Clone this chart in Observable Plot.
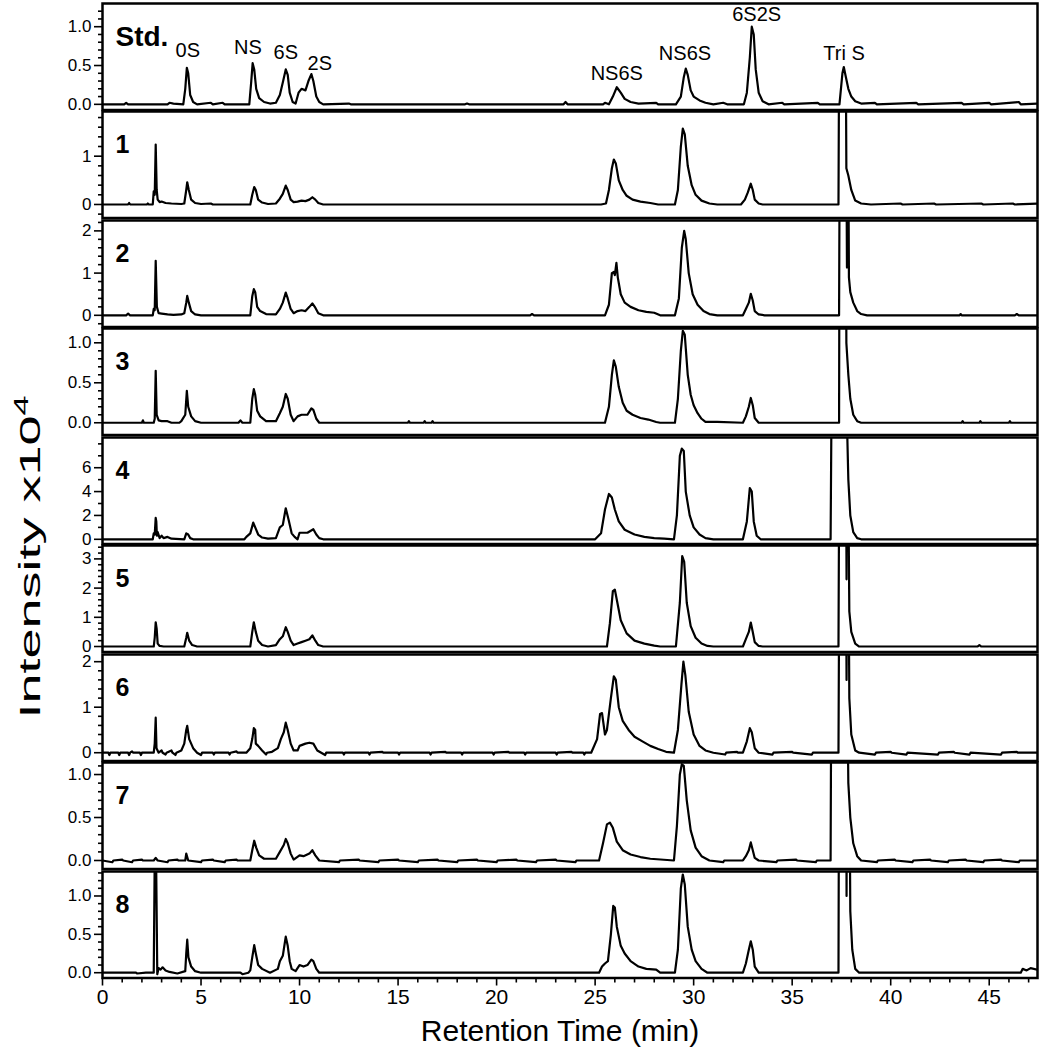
<!DOCTYPE html>
<html><head><meta charset="utf-8">
<script src="https://cdn.jsdelivr.net/npm/d3@7"></script>
<script src="https://cdn.jsdelivr.net/npm/@observablehq/plot@0.6"></script>
<style>
body{margin:0;background:#fff}
#chart{position:relative;width:1039px;height:1050px;font-family:"Liberation Sans",Arial,sans-serif;color:#000}
#chart svg{position:absolute;left:0;display:block}
.ttl{position:absolute;white-space:nowrap}
</style>
</head><body><div id="chart"></div>
<script>
// ---- data ----
const panelNames = ["Std.", "1", "2", "3", "4", "5", "6", "7", "8"];
const xMajorTicks = [0, 5, 10, 15, 20, 25, 30, 35, 40, 45];
const xMinorTicks = [1,2,3,4,6,7,8,9,11,12,13,14,16,17,18,19,21,22,23,24,26,27,28,29,31,32,33,34,36,37,38,39,41,42,43,44,46,47];

const stdPeakLabels = ["0S", "NS", "6S", "2S", "NS6S", "NS6S", "6S2S", "Tri S"];
const stdLabelTime  = [4.33, 7.38, 9.3, 11.03, 26.1, 29.56, 33.2, 37.63];
const stdLabelLevel = [0.69, 0.73, 0.67, 0.53, 0.39, 0.66, 1.16, 0.66];

const traceStd = [[0,0],[1.1,0],[1.2,0.02],[1.3,0],[3.3,0],[3.4,0.02],[3.6,0.01],[4.1,0],[4.2,0.2],[4.28,0.47],[4.35,0.4],[4.45,0.12],[4.6,0.03],[4.8,0],[5.5,0.02],[5.6,0],[6.1,0.02],[6.2,0],[7.45,0],[7.55,0.3],[7.62,0.53],[7.7,0.45],[7.8,0.2],[7.95,0.08],[8.2,0.03],[8.5,0.01],[8.8,0.02],[9.0,0.12],[9.15,0.28],[9.3,0.45],[9.4,0.38],[9.5,0.15],[9.65,0.03],[9.8,0.01],[9.95,0.15],[10.1,0.2],[10.3,0.18],[10.45,0.3],[10.6,0.39],[10.7,0.3],[10.85,0.1],[11.0,0.03],[11.2,0],[12.5,0.01],[12.6,0],[18.4,0],[18.5,0.01],[18.6,0],[23.4,0],[23.5,0.03],[23.6,0],[25.4,0],[25.5,0.02],[25.7,0],[25.9,0.1],[26.1,0.22],[26.3,0.15],[26.5,0.07],[26.8,0.03],[27.2,0.01],[28.1,0.02],[28.2,0],[29.1,0],[29.35,0.1],[29.5,0.35],[29.6,0.46],[29.7,0.38],[29.85,0.18],[30.0,0.1],[30.3,0.05],[30.6,0.02],[31,0],[31.5,0.02],[31.7,0],[32.55,0],[32.7,0.15],[32.85,0.6],[32.95,1.0],[33.05,0.9],[33.15,0.45],[33.3,0.15],[33.5,0.04],[33.8,0],[34.5,0.02],[34.6,0],[36.3,0.02],[36.4,0],[37.4,0],[37.55,0.4],[37.62,0.48],[37.7,0.38],[37.85,0.2],[38.0,0.1],[38.2,0.04],[38.5,0.01],[39.2,0.02],[39.3,0],[41.3,0.02],[41.4,0],[43.6,0.02],[43.7,0],[45.0,0.02],[45.1,0],[46.5,0.03],[46.6,0],[47.45,0.01]];

const trace1 = [[0,0],[1.3,0],[1.35,0.03],[1.4,0],[2.25,0],[2.3,0.02],[2.35,0],[2.55,0],[2.6,0.27],[2.65,0.2],[2.7,1.24],[2.75,0.3],[2.8,0.1],[2.9,0.05],[3.0,0.06],[3.2,0.03],[3.5,0.02],[4.0,0.01],[4.15,0.02],[4.25,0.3],[4.3,0.46],[4.38,0.3],[4.5,0.1],[4.7,0.03],[5.0,0.01],[5.5,0.02],[5.6,0],[7.5,0],[7.6,0.2],[7.7,0.36],[7.78,0.3],[7.9,0.1],[8.1,0.04],[8.4,0.01],[8.8,0.02],[9.0,0.12],[9.15,0.22],[9.3,0.39],[9.4,0.3],[9.55,0.1],[9.7,0.05],[9.9,0.06],[10.1,0.08],[10.3,0.07],[10.5,0.1],[10.65,0.15],[10.8,0.1],[10.95,0.03],[11.2,0],[25.3,0],[25.55,0.02],[25.7,0.3],[25.85,0.75],[25.95,0.93],[26.05,0.85],[26.2,0.5],[26.4,0.3],[26.6,0.18],[26.9,0.1],[27.3,0.06],[27.8,0.03],[28.2,0],[29.05,0],[29.2,0.3],[29.35,1.2],[29.45,1.57],[29.55,1.45],[29.7,0.8],[29.9,0.4],[30.1,0.2],[30.4,0.08],[30.8,0.02],[31.2,0],[32.4,0],[32.6,0.1],[32.75,0.25],[32.9,0.43],[33.0,0.3],[33.1,0.1],[33.3,0.02],[33.5,0],[37.35,0],[37.4,5],[37.7,5],[37.75,0.75],[37.85,0.6],[38.0,0.3],[38.2,0.08],[38.5,0.02],[39,0],[40.5,0.02],[40.6,0],[42.2,0.02],[42.3,0],[44.6,0.02],[44.7,0],[46.2,0.02],[46.3,0],[47.45,0.02]];

const trace2 = [[0,0],[1.2,0],[1.3,0.04],[1.4,0],[2.55,0],[2.6,0.15],[2.65,0.12],[2.7,1.29],[2.76,0.2],[2.85,0.05],[3.0,0.04],[3.3,0.02],[3.6,0.01],[4.0,0.02],[4.15,0.05],[4.25,0.3],[4.3,0.46],[4.38,0.3],[4.5,0.1],[4.7,0.02],[5.0,0],[7.5,0],[7.6,0.45],[7.68,0.62],[7.75,0.55],[7.85,0.2],[8.0,0.1],[8.3,0.03],[8.8,0.02],[9.0,0.15],[9.15,0.3],[9.3,0.54],[9.4,0.4],[9.55,0.15],[9.7,0.05],[9.9,0.1],[10.1,0.12],[10.3,0.1],[10.5,0.2],[10.65,0.28],[10.8,0.18],[10.95,0.05],[11.2,0],[21.7,0],[21.8,0.03],[21.9,0],[25.5,0],[25.7,0.25],[25.85,1.0],[25.95,1.03],[26.0,0.95],[26.08,1.24],[26.15,0.9],[26.3,0.5],[26.5,0.3],[26.8,0.2],[27.2,0.12],[27.6,0.08],[28.0,0.06],[28.3,0],[29.05,0],[29.25,0.4],[29.4,1.6],[29.52,2.0],[29.6,1.8],[29.75,1.0],[29.95,0.5],[30.2,0.25],[30.5,0.1],[30.8,0.03],[31.2,0],[32.5,0],[32.65,0.15],[32.8,0.3],[32.9,0.51],[33.0,0.35],[33.1,0.1],[33.3,0.02],[33.6,0],[37.38,0],[37.42,5],[37.74,5],[37.78,1.13],[37.8,5],[37.84,5],[37.88,0.9],[37.95,0.55],[38.1,0.3],[38.3,0.1],[38.5,0.03],[38.8,0],[43.5,0],[43.55,0.03],[43.6,0],[46.3,0],[46.4,0.03],[46.5,0],[47.45,0]];

const trace3 = [[0,0],[2.0,0],[2.05,0.03],[2.1,0],[2.6,0],[2.65,0.05],[2.7,0.65],[2.75,0.1],[2.85,0.03],[3.0,0.02],[3.3,0.02],[3.5,0],[3.9,0],[4.0,0.02],[4.2,0.1],[4.28,0.4],[4.35,0.2],[4.5,0.08],[4.7,0.02],[5.0,0],[6.9,0],[7.0,0.03],[7.1,0],[7.5,0],[7.6,0.3],[7.68,0.42],[7.75,0.35],[7.85,0.15],[8.0,0.08],[8.3,0.02],[8.8,0.02],[9.0,0.12],[9.15,0.2],[9.3,0.36],[9.4,0.3],[9.55,0.1],[9.7,0.02],[9.9,0.08],[10.1,0.1],[10.4,0.1],[10.6,0.18],[10.7,0.16],[10.85,0.05],[11.0,0],[15.5,0],[15.55,0.02],[15.6,0],[16.3,0],[16.35,0.02],[16.4,0],[16.7,0],[16.75,0.02],[16.8,0],[25.5,0],[25.7,0.2],[25.85,0.6],[25.95,0.78],[26.05,0.7],[26.2,0.45],[26.4,0.25],[26.6,0.15],[26.9,0.1],[27.3,0.06],[27.7,0.04],[28.1,0.01],[28.3,0],[29.05,0],[29.2,0.3],[29.35,0.9],[29.45,1.15],[29.55,1.1],[29.7,0.6],[29.85,0.35],[30.0,0.22],[30.2,0.12],[30.4,0.05],[30.6,0.01],[31.2,0.01],[32.5,0],[32.65,0.08],[32.8,0.2],[32.9,0.31],[33.0,0.22],[33.1,0.06],[33.3,0],[37.38,0],[37.42,5],[37.7,5],[37.75,1.0],[37.85,0.6],[37.95,0.3],[38.1,0.1],[38.3,0.02],[38.5,0],[43.6,0],[43.65,0.02],[43.7,0],[44.5,0],[44.55,0.02],[44.6,0],[46.0,0],[46.05,0.02],[46.1,0],[47.45,0]];

const trace4 = [[0,0],[2.55,0],[2.6,0.5],[2.65,0.4],[2.7,1.8],[2.73,1.5],[2.76,0.3],[2.8,0.6],[2.9,0.1],[3.0,0.3],[3.1,0.1],[3.3,0.2],[3.5,0.05],[4.15,0],[4.25,0.5],[4.35,0.4],[4.45,0.1],[4.6,0],[7.2,0],[7.3,0.2],[7.5,0.5],[7.65,1.4],[7.75,1.0],[7.9,0.4],[8.1,0.15],[8.4,0.05],[8.8,0.1],[9.0,1.0],[9.15,1.2],[9.3,2.6],[9.45,1.6],[9.6,0.5],[9.75,0.2],[9.9,0],[10.0,0.55],[10.4,0.55],[10.55,0.7],[10.7,0.84],[10.85,0.4],[11.0,0.1],[11.2,0],[25.0,0],[25.3,0.5],[25.5,2.5],[25.7,3.8],[25.85,3.5],[26.0,2.5],[26.2,1.5],[26.5,0.8],[27.0,0.4],[27.5,0.2],[28.0,0.1],[28.5,0.05],[29.0,0],[29.15,2.0],[29.3,7.0],[29.4,7.6],[29.5,7.4],[29.6,4.0],[29.8,2.0],[30.0,1.0],[30.3,0.4],[30.6,0.1],[31.0,0],[32.5,0],[32.7,1.5],[32.85,4.3],[32.95,4.0],[33.05,1.5],[33.2,0.3],[33.4,0],[36.95,0],[37.0,12],[37.75,12],[37.85,5],[37.95,2],[38.1,0.6],[38.3,0.1],[38.5,0],[47.45,0]];

const trace5 = [[0,0],[2.6,0],[2.65,0.3],[2.7,0.83],[2.75,0.6],[2.8,0.1],[2.9,0.02],[3.1,0],[4.15,0],[4.25,0.3],[4.3,0.47],[4.4,0.2],[4.55,0.05],[4.8,0],[7.5,0],[7.6,0.5],[7.68,0.83],[7.78,0.5],[7.9,0.2],[8.1,0.05],[8.4,0],[8.8,0.05],[9.0,0.25],[9.15,0.35],[9.3,0.66],[9.4,0.5],[9.55,0.2],[9.7,0.05],[9.9,0.1],[10.1,0.15],[10.3,0.2],[10.5,0.25],[10.65,0.38],[10.8,0.2],[10.95,0.05],[11.2,0],[25.6,0],[25.75,0.8],[25.9,1.9],[26.0,1.95],[26.1,1.6],[26.3,0.9],[26.6,0.45],[27.0,0.2],[27.5,0.1],[28.0,0.03],[28.3,0],[29.1,0],[29.3,1.5],[29.42,3.1],[29.52,2.9],[29.65,1.5],[29.85,0.7],[30.1,0.3],[30.4,0.1],[30.7,0.02],[31,0],[32.5,0],[32.65,0.25],[32.8,0.5],[32.9,0.82],[33.0,0.5],[33.1,0.15],[33.3,0.02],[33.5,0],[37.35,0],[37.4,8],[37.72,8],[37.76,2.3],[37.78,8],[37.82,8],[37.9,1.2],[38.0,0.5],[38.2,0.1],[38.4,0],[44.4,0],[44.5,0.05],[44.6,0],[47.45,0]];

const trace6 = [[0,0],[0.3,0],[0.35,-0.05],[0.4,0],[0.8,0],[0.85,-0.05],[0.9,0],[1.3,0],[1.35,-0.05],[1.4,0],[1.5,0.03],[1.55,0],[1.9,0],[1.95,-0.05],[2.0,0],[2.6,0],[2.65,0.2],[2.7,0.77],[2.74,0.1],[2.85,0],[3.0,0.05],[3.05,0],[3.2,-0.04],[3.25,0],[3.5,0.05],[3.55,0],[3.7,-0.05],[3.75,0],[4.0,0.05],[4.15,0.2],[4.25,0.5],[4.3,0.59],[4.4,0.3],[4.6,0.1],[4.8,0],[5.0,-0.05],[5.05,0],[5.6,0],[5.65,-0.04],[5.7,0],[6.4,0],[6.45,-0.04],[6.5,0],[6.8,0.03],[6.85,0],[7.3,0],[7.5,0.1],[7.6,0.3],[7.68,0.54],[7.75,0.5],[7.78,0.2],[7.9,0.15],[8.1,0.05],[8.3,-0.04],[8.35,0],[8.6,0.02],[8.9,0.1],[9.05,0.3],[9.2,0.45],[9.3,0.66],[9.4,0.5],[9.55,0.2],[9.7,0.05],[9.9,0.05],[10.0,0.15],[10.3,0.2],[10.5,0.22],[10.7,0.2],[10.9,0.05],[11.1,0],[11.3,-0.05],[11.35,0],[12.2,0],[12.25,-0.04],[12.3,0],[13.5,0],[13.55,-0.04],[13.6,0],[14.2,0.02],[14.25,0],[15.0,0],[15.05,-0.04],[15.1,0],[16.6,0],[16.65,-0.04],[16.7,0],[17.4,0.02],[17.45,0],[18.2,0],[18.25,-0.04],[18.3,0],[19.8,0],[19.85,-0.04],[19.9,0],[20.6,0.02],[20.65,0],[21.4,0],[21.45,-0.04],[21.5,0],[23.0,0],[23.05,-0.04],[23.1,0],[23.8,0.02],[23.85,0],[24.4,0],[24.45,-0.04],[24.5,0],[24.8,0],[25.1,0.3],[25.25,0.85],[25.35,0.87],[25.5,0.4],[25.6,0.5],[25.8,1.2],[25.95,1.68],[26.05,1.6],[26.2,1.0],[26.4,0.7],[26.7,0.5],[27.0,0.35],[27.4,0.25],[27.8,0.15],[28.2,0.08],[28.6,0.02],[29.0,0],[29.2,0.5],[29.38,1.5],[29.48,2.0],[29.58,1.7],[29.75,0.9],[30.0,0.4],[30.3,0.15],[30.6,0.05],[31,0],[31.6,-0.04],[31.65,0],[32.2,0.02],[32.25,0],[32.5,0],[32.7,0.25],[32.85,0.54],[32.95,0.45],[33.1,0.1],[33.3,0],[34.0,-0.04],[34.05,0],[35.0,0.02],[35.05,0],[36.0,-0.04],[36.05,0],[37.35,0],[37.4,5],[37.72,5],[37.76,1.6],[37.8,5],[37.85,5],[37.9,1.2],[38.0,0.4],[38.2,0.05],[38.4,0],[39.2,-0.04],[39.25,0],[40.0,0.02],[40.05,0],[40.8,-0.04],[40.85,0],[42.4,-0.04],[42.45,0],[43.2,0.02],[43.25,0],[44.0,-0.04],[44.05,0],[45.6,-0.04],[45.65,0],[46.4,0.02],[46.45,0],[47.45,0]];

const trace7 = [[0,0],[0.5,-0.02],[0.55,0],[1.0,0.01],[1.05,0],[1.5,-0.02],[1.55,0],[2.0,0.01],[2.05,0],[2.6,0],[2.7,0.03],[2.8,0],[3.3,-0.02],[3.35,0],[3.8,0.01],[3.85,0],[4.2,0],[4.25,0.08],[4.35,0],[5.0,-0.02],[5.05,0],[5.6,0.01],[5.65,0],[6.2,-0.02],[6.25,0],[6.8,0.01],[6.85,0],[7.5,0],[7.6,0.12],[7.7,0.23],[7.8,0.15],[7.95,0.06],[8.2,0.02],[8.8,0.02],[9.0,0.1],[9.2,0.18],[9.3,0.25],[9.4,0.2],[9.55,0.08],[9.7,0.01],[10.0,0.06],[10.2,0.05],[10.5,0.08],[10.65,0.12],[10.8,0.06],[11.0,0],[12.0,-0.02],[12.05,0],[13.0,0.01],[13.05,0],[14.0,-0.02],[14.05,0],[15.0,0.01],[15.05,0],[16.0,-0.02],[16.05,0],[17.0,0.01],[17.05,0],[18.0,-0.02],[18.05,0],[19.0,0.01],[19.05,0],[20.0,-0.02],[20.05,0],[21.0,0.01],[21.05,0],[22.0,-0.02],[22.05,0],[23.0,0.01],[23.05,0],[24.0,-0.02],[24.05,0],[25.2,0],[25.4,0.2],[25.6,0.42],[25.75,0.44],[25.9,0.38],[26.1,0.22],[26.4,0.12],[26.8,0.07],[27.3,0.04],[27.8,0.02],[29.0,0],[29.15,0.4],[29.3,1.0],[29.4,1.12],[29.5,1.1],[29.65,0.7],[29.85,0.35],[30.1,0.15],[30.4,0.05],[30.8,0],[31.5,-0.02],[31.55,0],[32.5,0],[32.65,0.05],[32.8,0.12],[32.9,0.21],[33.0,0.12],[33.1,0.03],[33.3,0],[34.2,-0.02],[34.25,0],[35.2,0.01],[35.25,0],[36.2,-0.02],[36.25,0],[36.95,0],[37.0,3],[37.75,3],[37.85,0.9],[37.95,0.5],[38.1,0.2],[38.3,0.05],[38.5,0],[39.3,-0.02],[39.35,0],[40.2,0.01],[40.25,0],[41.1,-0.02],[41.15,0],[42.0,0.01],[42.05,0],[42.9,-0.02],[42.95,0],[43.8,0.01],[43.85,0],[44.7,-0.02],[44.75,0],[45.6,0.01],[45.65,0],[46.5,-0.02],[46.55,0],[47.45,0]];

const trace8 = [[0,0],[1.7,0],[1.75,-0.01],[2.2,0],[2.6,0],[2.65,1.5],[2.72,1.5],[2.78,-0.02],[2.85,0.06],[2.95,0.04],[3.05,0.07],[3.2,0.03],[3.4,0.01],[3.8,-0.01],[4.2,0.02],[4.25,0.25],[4.3,0.43],[4.36,0.2],[4.5,0.08],[4.7,0.02],[5.0,0],[7.0,0],[7.1,-0.02],[7.4,0],[7.5,0.03],[7.6,0.2],[7.7,0.36],[7.78,0.25],[7.9,0.1],[8.1,0.05],[8.5,0],[8.9,0.05],[9.0,0.15],[9.15,0.22],[9.3,0.47],[9.4,0.35],[9.5,0.15],[9.6,0.05],[9.8,0.02],[10.0,0.1],[10.2,0.08],[10.4,0.1],[10.6,0.17],[10.7,0.15],[10.85,0.05],[11.0,0],[25.2,0],[25.35,0.08],[25.5,0.12],[25.65,0.15],[25.8,0.5],[25.92,0.87],[26.0,0.85],[26.1,0.6],[26.3,0.35],[26.5,0.25],[26.8,0.15],[27.2,0.08],[27.6,0.05],[28.1,0.04],[28.3,0],[29.05,0],[29.2,0.3],[29.35,1.1],[29.45,1.28],[29.55,1.15],[29.7,0.6],[29.9,0.3],[30.1,0.15],[30.4,0.05],[30.7,0],[32.5,0],[32.65,0.12],[32.8,0.3],[32.9,0.41],[33.0,0.3],[33.1,0.08],[33.3,0],[37.35,0],[37.4,5],[37.72,5],[37.76,1.0],[37.8,5],[37.85,5],[37.95,0.8],[38.05,0.3],[38.2,0.05],[38.4,0],[46.6,0],[46.7,0.05],[46.9,0.03],[47.1,0.06],[47.45,0.04]];

const traces = [traceStd, trace1, trace2, trace3, trace4, trace5, trace6, trace7, trace8];

// y-axis tick values per panel
const yMajor = [[0,0.5,1],[0,1],[0,1,2],[0,0.5,1],[0,2,4,6],[0,1,2,3],[0,1,2],[0,0.5,1],[0,0.5,1]];
const yMinor = [
  [0.1,0.2,0.3,0.4,0.6,0.7,0.8,0.9,1.1,1.2],
  [-0.2,0.2,0.4,0.6,0.8,1.2,1.4,1.6,1.8],
  [-0.2,0.2,0.4,0.6,0.8,1.2,1.4,1.6,1.8,2.2],
  [0.1,0.2,0.3,0.4,0.6,0.7,0.8,0.9,1.1],
  [1,3,5,7,8],
  [0.2,0.4,0.6,0.8,1.2,1.4,1.6,1.8,2.2,2.4,2.6,2.8,3.2,3.4],
  [0.2,0.4,0.6,0.8,1.2,1.4,1.6,1.8],
  [0.1,0.2,0.3,0.4,0.6,0.7,0.8,0.9,1.1],
  [0.1,0.2,0.3,0.4,0.6,0.7,0.8,0.9,1.1,1.2,1.3]
];

// ---- layout (scale settings) ----
const yDomains = [[-0.073,1.299],[-0.28,1.925],[-0.277,2.246],[-0.153,1.179],[-0.394,8.533],[-0.188,3.459],[-0.182,2.158],[-0.099,1.14],[-0.069,1.319]];
const oneDecimal = [true,false,false,true,false,false,false,true,true];
const FONT = "'Liberation Sans', Arial, Helvetica, sans-serif";
const PH = 108.5, TOP0 = 1.5, XEXTRA = 40;

const chart = document.getElementById("chart");
traces.forEach((tr, k) => {
  const last = k === traces.length - 1;
  const marks = [
    Plot.line(tr, {x: d => d[0], y: d => d[1], stroke: "#000", strokeWidth: 2.2, clip: true}),
    Plot.frame({stroke: "#000", strokeWidth: 2.5}),
    Plot.axisY(yMinor[k], {tickSize: 4, tickFormat: () => "", strokeWidth: 1.6, label: null}),
    Plot.axisY(yMajor[k], {tickSize: 8, tickPadding: 3, fontSize: 17, strokeWidth: 1.6, label: null,
      tickFormat: oneDecimal[k] ? d3.format(".1f") : d3.format("d")}),
    Plot.text([panelNames[k]], {frameAnchor: "top-left", text: d => d, dx: 13, dy: k === 0 ? 34 : 33,
      textAnchor: "start", lineAnchor: "middle", fontWeight: "bold", fontSize: k === 0 ? 28 : 25})
  ];
  if (k === 0) {
    marks.push(Plot.text(stdPeakLabels, {x: stdLabelTime, y: stdLabelLevel, text: d => d,
      fontSize: 20, lineAnchor: "middle"}));
  }
  if (last) {
    marks.push(Plot.axisX(xMinorTicks, {tickSize: 5, tickFormat: () => "", strokeWidth: 1.6, label: null}));
    marks.push(Plot.axisX(xMajorTicks, {tickSize: 8, tickPadding: 3, fontSize: 21, strokeWidth: 1.6, label: null}));
  }
  const svg = Plot.plot({
    width: 1039,
    height: PH + (last ? XEXTRA : 0),
    marginLeft: 102, marginRight: 2, marginTop: 1, marginBottom: 1 + (last ? XEXTRA : 0),
    x: {domain: [0, 47.45], ...(last ? {} : {axis: null})},
    y: {domain: yDomains[k]},
    style: {fontFamily: FONT, background: "transparent", overflow: "visible", color: "#000"},
    marks
  });
  svg.style.top = (TOP0 + PH * k) + "px";
  chart.appendChild(svg);
});

const xt = document.createElement("div");
xt.className = "ttl";
xt.style.fontSize = "30px";
xt.textContent = "Retention Time (min)";
xt.style.left = "560px"; xt.style.top = "1031px";
xt.style.transform = "translate(-50%,-50%)";
chart.appendChild(xt);

const yt = document.createElement("div");
yt.className = "ttl";
yt.style.fontSize = "30px";
yt.innerHTML = "Intensity x10<sup style='font-size:20px;vertical-align:0.6em;line-height:0'>4</sup>";
yt.style.left = "30px"; yt.style.top = "557px";
yt.style.transform = "translate(-50%,-50%) rotate(-90deg) scaleX(1.8)";
chart.appendChild(yt);
</script>
</body></html>
